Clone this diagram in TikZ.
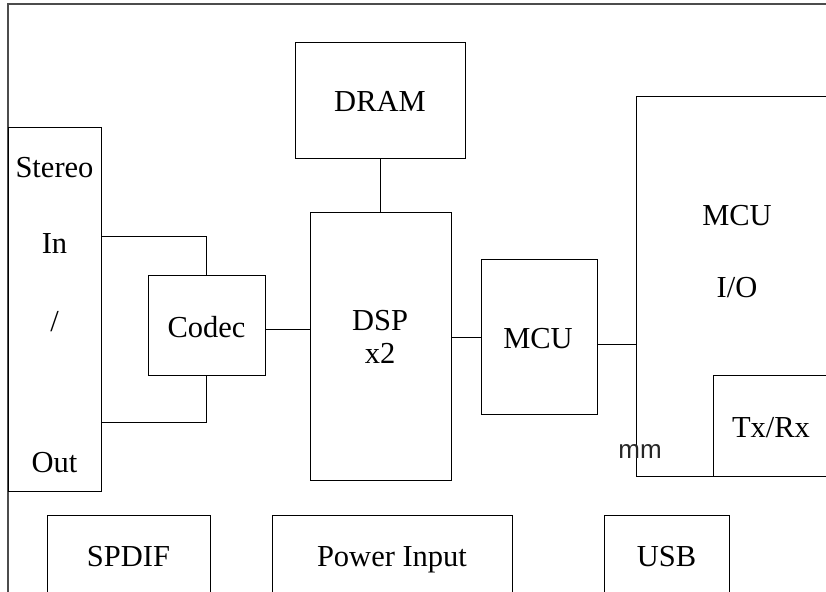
\documentclass[tikz,border=0pt]{standalone}
\usepackage{fontspec}
\setmainfont{Liberation Serif}
\newfontfamily\sansf{Liberation Sans}
\begin{document}
\begin{tikzpicture}[x=1pt,y=-1pt,
  box/.style={draw, line width=1pt, inner sep=0pt},
  lbl/.style={font=\fontsize{30.5}{36}\selectfont, inner sep=0pt, text height=21pt, text depth=7pt},
  wire/.style={line width=1pt},
  frame/.style={line width=1.3pt, black!70}]
\useasboundingbox (0,0) rectangle (826,591);
\clip (0,0) rectangle (826,591);
\coordinate (fbl) at (8,600);
\coordinate (ftl) at (8,4);
\coordinate (ftr) at (840,4);
\draw[frame] (fbl) -- (ftl) -- (ftr);
% boxes
\node[box, minimum width=93pt, minimum height=364pt] (stereo) at (54.5,309) {};
\node[box, minimum width=117pt, minimum height=100pt] (codec) at (206.5,325) {};
\node[box, minimum width=141pt, minimum height=268pt] (dsp) at (380.5,346) {};
\node[box, minimum width=170pt, minimum height=115pt] (dram) at (380,100.5) {};
\node[box, minimum width=116pt, minimum height=155pt] (mcu) at (539,336.5) {};
\node[box, minimum width=204pt, minimum height=379pt] (mcuio) at (738,286.5) {};
\node[box, minimum width=117pt, minimum height=101pt] (txrx) at (771.5,425.5) {};
\node[box, minimum width=163pt, minimum height=85pt] (spdif) at (128.5,557.5) {};
\node[box, minimum width=240pt, minimum height=85pt] (power) at (392,557.5) {};
\node[box, minimum width=125pt, minimum height=85pt] (usb) at (666.5,557.5) {};
% labels
\node[lbl] (tstereo) at (54.5,170.5) {Stereo};
\node[lbl] (tin) at (54.5,246.5) {In};
\node[lbl] (tslash) at (54.5,324) {/};
\node[lbl] (tout) at (54.5,465.5) {Out};
\node[lbl] (tcodec) at (206.5,330.5) {Codec};
\node[lbl] (tdram) at (380,104.5) {DRAM};
\node[lbl] (tdsp) at (380,323.5) {DSP};
\node[lbl] (tx2) at (380,356.5) {x2};
\node[lbl] (tmcu) at (538,341.5) {MCU};
\node[lbl] (tmcuio) at (737,218.5) {MCU};
\node[lbl] (tio) at (737,290.5) {I/O};
\node[lbl] (ttxrx) at (771,430.5) {Tx/Rx};
\node[lbl] (tspdif) at (128.5,559.5) {SPDIF};
\node[lbl] (tpower) at (392,559.5) {Power Input};
\node[lbl] (tusb) at (666.5,559.5) {USB};
\node[font=\sansf\fontsize{26}{30}\selectfont, text=black!85, inner sep=0pt] (tmm) at (640,451) {mm};
% connectors
\draw[wire] (stereo.east |- 0,236) -| (codec.north);
\draw[wire] (stereo.east |- 0,422) -| (codec.south);
\draw[wire] (codec.east |- 0,329) -- (dsp.west |- 0,329);
\draw[wire] (dram.south) -- (dram.south |- dsp.north);
\draw[wire] (dsp.east |- 0,337) -- (mcu.west |- 0,337);
\draw[wire] (mcu.east |- 0,344) -- (mcuio.west |- 0,344);
\end{tikzpicture}
\end{document}
